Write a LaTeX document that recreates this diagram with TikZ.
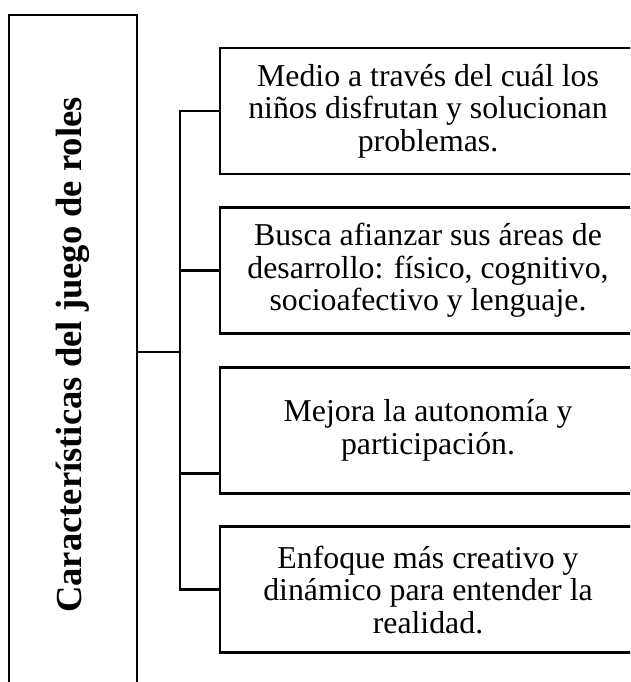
\documentclass[tikz,border=0pt]{standalone}
\usepackage{fontspec}
\setmainfont{Liberation Serif}
\usetikzlibrary{
  calc,
  positioning,
}
\tikzset{
  trait/.style={
    draw=black,
    minimum width=416pt,
    minimum height=126pt,
    inner sep=0pt,
    align=center,
    font=\fontsize{31.8}{32.5}\selectfont
  },
}

\begin{document}
\begin{tikzpicture}[x=1pt,y=-1pt,line width=2.7pt,
      every node/.style={outer sep=0pt},
      node distance=33.6pt
    ]
      \clip (0,0) rectangle (630,682);

      \node [draw=black, rotate=90, minimum width=680pt, minimum height=128pt,
        font=\fontsize{36.6}{40}\selectfont\bfseries] at (73,355) (title)
        {Características del juego de roles};

      \node [trait, anchor=north west] at (220,48) (f1)
        {Medio a través del cuál los\\niños disfrutan y solucionan\\problemas.};
      \node [trait, below=of f1] (f2)
        {Busca afianzar sus áreas de\\desarrollo: físico, cognitivo,\\socioafectivo y lenguaje.};
      \node [trait, below=of f2] (f3)
        {Mejora la autonomía y\\participación.};
      \node [trait, below=of f3] (f4)
        {Enfoque más creativo y\\dinámico para entender la\\realidad.};

      \coordinate (hub) at (180,352);
      \coordinate (f3in) at ([yshift=-43.5pt]f3.west);

      \draw (title.south |- hub) -- (hub);
      \draw (f1.west) -- (f1.west -| hub) -- (f4.west -| hub) -- (f4.west);
      \draw (f2.west -| hub) -- (f2.west);
      \draw (f3in -| hub) -- (f3in);
    \end{tikzpicture}
\end{document}
